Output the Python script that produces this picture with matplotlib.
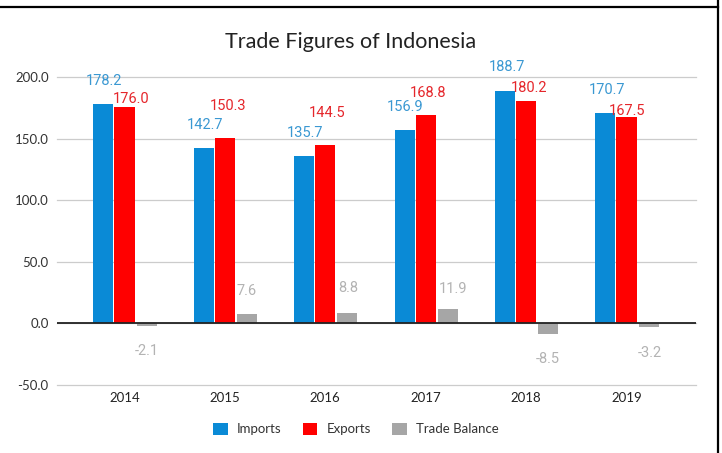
import matplotlib
matplotlib.use("Agg")
import matplotlib.pyplot as plt
from matplotlib.lines import Line2D
import numpy as np

years = ["2014", "2015", "2016", "2017", "2018", "2019"]
imports = [178.2, 142.7, 135.7, 156.9, 188.7, 170.7]
exports = [176.0, 150.3, 144.5, 168.8, 180.2, 167.5]
balance = [-2.1, 7.6, 8.8, 11.9, -8.5, -3.2]
series_names = ["Imports", "Exports", "Trade Balance"]
yticks = [-50, 0, 50, 100, 150, 200]

# label placement offsets (pixels: dx, dy away from bar end)
imp_off = [(1, 23), (1, 23), (1, 23), (1, 23), (2, 24), (2, 23)]
exp_off = [(7, 8), (3, 32), (2, 32), (2, 22), (3, 13), (1, 6)]
bal_off = [(0, 25), (0, 23), (1, 25), (5, 20), (0, 25), (1, 26)]

c_imp, c_exp, c_bal = "#0a8ad6", "#ff0000", "#a6a6a6"
t_imp, t_exp, t_bal = "#3a98d2", "#e5262b", "#b3b3b3"

fig = plt.figure(figsize=(7.22, 4.53), dpi=100)
ax = fig.add_axes([57/722, 1-385/453, (696-57)/722, (385-77)/453])

x = np.arange(len(years))
w = 0.2
offs = [-0.21, 0.0, 0.22]
b1 = ax.bar(x + offs[0], imports, w, color=c_imp, zorder=3, label=series_names[0])
b2 = ax.bar(x + offs[1], exports, w, color=c_exp, zorder=3, label=series_names[1])
b3 = ax.bar(x + offs[2], balance, w, color=c_bal, zorder=3, label=series_names[2])

ax.set_xlim(-0.672, 5.692)
ax.set_ylim(-50, 200)
ax.set_yticks(yticks)
ax.set_yticklabels([f"{v:.1f}" for v in yticks], fontfamily="Lato", fontsize=9.5, color="#333333")
ax.set_xticks(x)
ax.set_xticklabels(years, fontfamily="Lato", fontsize=9.5, color="#222222")
ax.tick_params(length=0, pad=5)
ax.tick_params(axis="y", pad=6)
for s in ax.spines.values():
    s.set_visible(False)
ax.grid(axis="y", color="#cccccc", lw=0.9, zorder=0)
ax.set_axisbelow(True)
for gl in ax.get_ygridlines():
    gl.set_clip_on(False)
ax.axhline(0, color="#222222", lw=1.3, zorder=4)

k = 0.72
def lab(vals, dx_off, col, off):
    for i, v in enumerate(vals):
        dx, dy = off[i]
        sgn = 1 if v >= 0 else -1
        ax.annotate(f"{v:.1f}", xy=(x[i] + dx_off, v), xytext=(dx*k, sgn*dy*k),
                    textcoords="offset points", ha="center", va="center",
                    color=col, fontsize=10.5, fontfamily="Roboto", zorder=5)

lab(imports, offs[0], t_imp, imp_off)
lab(exports, offs[1], t_exp, exp_off)
lab(balance, offs[2], t_bal, bal_off)

fig.text(351/722, 1-42/453, "Trade Figures of Indonesia", ha="center", va="center",
         fontsize=15.5, fontfamily="Lato", color="#222222")

fig.legend(handles=[b1, b2, b3], labels=series_names, loc="center",
           bbox_to_anchor=(356/722, 1-429/453), ncol=3, frameon=False,
           prop={"family": "Lato", "size": 9.5}, handlelength=1.1, handleheight=1.1,
           handletextpad=0.7, columnspacing=1.6, labelcolor="#333333")

fig.add_artist(Line2D([0, 718/722], [1-7/453, 1-7/453], color="black", lw=1.6, transform=fig.transFigure))
fig.add_artist(Line2D([718/722, 718/722], [0, 1], color="black", lw=1.6, transform=fig.transFigure))

fig.savefig("out.png", dpi=100)
